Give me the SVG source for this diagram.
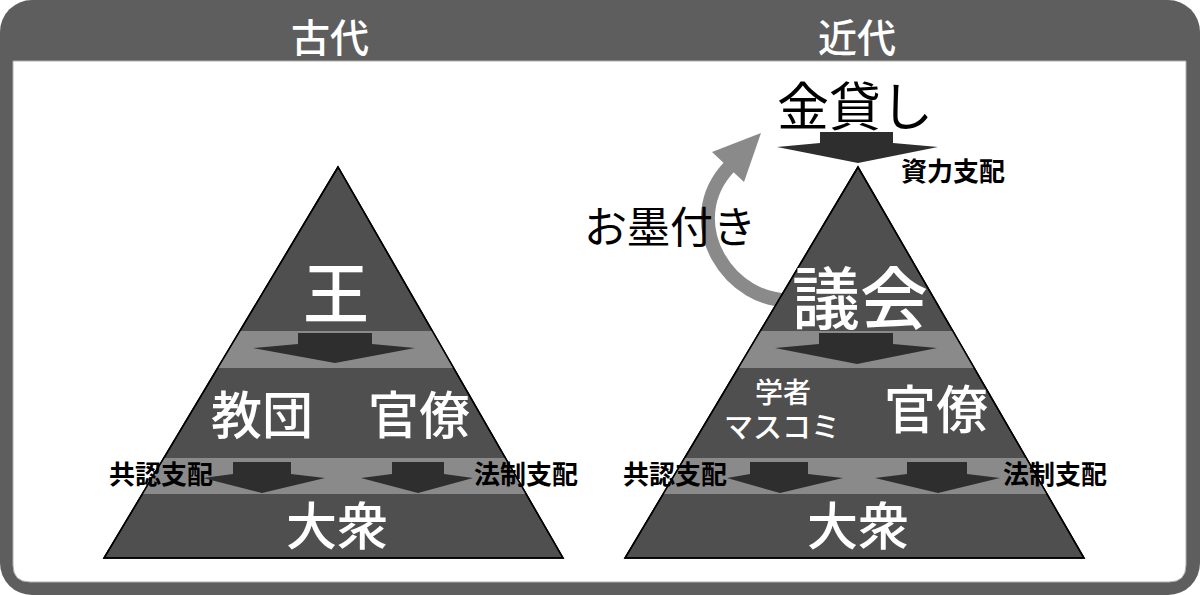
<svg xmlns="http://www.w3.org/2000/svg" width="1200" height="595" viewBox="0 0 1200 595">
<defs>
<style>
.frame{fill:#5e5e5e}
.inner{fill:#ffffff;stroke:#b0b0b0;stroke-width:1}
.pyr{fill:#4f4f4f;stroke:#000;stroke-width:1.5;stroke-linejoin:miter}
.band{fill:#8a8a8a}
.arr{fill:#2e2e2e}
.w{fill:#fff;font-family:"Noto Sans CJK JP","Noto Sans CJK SC",sans-serif;font-weight:500;text-anchor:middle}
.k{fill:#000;font-family:"Noto Sans CJK JP","Noto Sans CJK SC",sans-serif;text-anchor:middle}
.lbl{fill:#000;font-family:"Noto Sans CJK JP","Noto Sans CJK SC",sans-serif;font-weight:bold;font-size:26px;text-anchor:middle}
.hdr{fill:#fff;font-family:"Noto Sans CJK JP","Noto Sans CJK SC",sans-serif;font-weight:500;font-size:39px;text-anchor:middle}
</style>
<clipPath id="clipL"><polygon points="338,167 104,558 563,558"/></clipPath>
<clipPath id="clipR"><polygon points="858,167 625,558 1084,558"/></clipPath>
</defs>

<g id="frame">
<rect class="frame" x="0" y="0" width="1200" height="595" rx="32" ry="32"/>
<path class="inner" d="M13 61 H1186 V565 Q1186 582 1169 582 H30 Q13 582 13 565 Z"/>
<text class="hdr" x="330" y="52">古代</text>
<text class="hdr" x="857" y="52">近代</text>
</g>

<g id="curved-arrow">
<path d="M795 300 C730 306 676 222 730 166" fill="none" stroke="#8a8a8a" stroke-width="14"/>
<polygon points="761,133 712,152 744,182" fill="#8a8a8a"/>
</g>

<g id="pyramid-ancient">
<polygon class="pyr" points="338,167 104,558 563,558"/>
<g clip-path="url(#clipL)">
<rect class="band" x="90" y="331" width="490" height="37"/>
<rect class="band" x="90" y="458" width="490" height="36"/>
</g>
<polygon class="pyr" points="338,167 104,558 563,558" style="fill:none"/>
</g>

<g id="pyramid-modern">
<polygon class="pyr" points="858,167 625,558 1084,558"/>
<g clip-path="url(#clipR)">
<rect class="band" x="610" y="331" width="490" height="37"/>
<rect class="band" x="610" y="458" width="490" height="36"/>
</g>
<polygon class="pyr" points="858,167 625,558 1084,558" style="fill:none"/>
</g>

<g id="connectors">
<polygon class="arr" points="298,333 372,333 372,344 415,348 335,363 253,348 298,344"/>
<polygon class="arr" points="233,462 291,462 291,474 325,478 262,493 203,478 233,474"/>
<polygon class="arr" points="392,462 444,462 444,474 473,478 418,493 361,478 392,474"/>
<polygon class="arr" points="819,333 893,333 893,344 937,348 857,364 775,348 819,344"/>
<polygon class="arr" points="750,462 808,462 808,474 843,478 780,493 727,478 750,474"/>
<polygon class="arr" points="907,462 967,462 967,474 1000,478 938,493 875,478 907,474"/>
<polygon class="arr" points="820,132 893,132 893,143 938,147 858,163 777,147 820,143"/>
</g>

<g id="node-king"><text class="w" x="336" y="318" font-size="66">王</text></g>
<g id="node-kyodan"><text class="w" x="262" y="434" font-size="51">教団</text></g>
<g id="node-kanryo-l"><text class="w" x="419" y="434" font-size="51">官僚</text></g>
<g id="node-taishu-l"><text class="w" x="337" y="545" font-size="51">大衆</text></g>
<g id="label-kyonin-l"><text class="lbl" x="161" y="484">共認支配</text></g>
<g id="label-hosei-l"><text class="lbl" x="526" y="484">法制支配</text></g>

<g id="node-kanekashi"><text class="k" x="855" y="126" font-size="52">金貸し</text></g>
<g id="label-shiryoku"><text class="lbl" x="953" y="181">資力支配</text></g>
<g id="label-osumitsuki"><text class="k" x="670" y="243" font-size="43">お墨付き</text></g>
<g id="node-gikai"><text class="w" x="860" y="324" font-size="68">議会</text></g>
<g id="node-gakusha"><text class="w" x="783" y="403" font-size="28">学者</text><text class="w" x="782" y="438" font-size="29">マスコミ</text></g>
<g id="node-kanryo-r"><text class="w" x="936" y="429" font-size="52">官僚</text></g>
<g id="node-taishu-r"><text class="w" x="858" y="545" font-size="51">大衆</text></g>
<g id="label-kyonin-r"><text class="lbl" x="675" y="484">共認支配</text></g>
<g id="label-hosei-r"><text class="lbl" x="1055" y="484">法制支配</text></g>
</svg>
